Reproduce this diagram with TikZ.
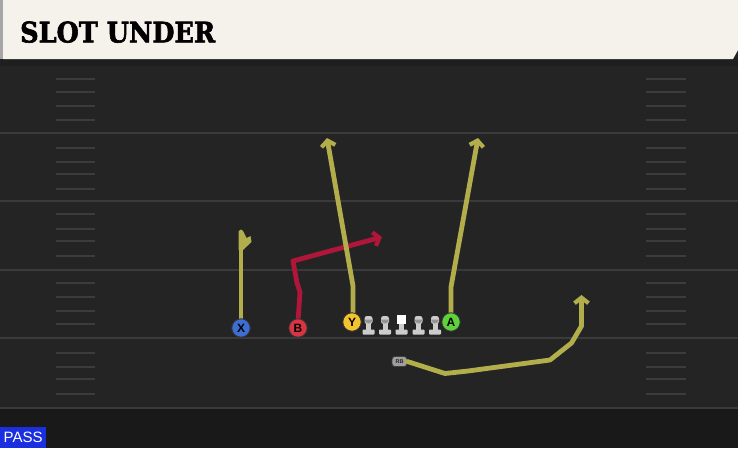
\documentclass[tikz,border=0pt]{standalone}
\usepackage{fontspec}
\setmainfont{Liberation Sans}
\newfontfamily\titlefont{DejaVu Serif}[BoldFeatures={FakeBold=2.2}]
\usetikzlibrary{arrows.meta}
\definecolor{fieldbg}{HTML}{242424}
\definecolor{yardline}{HTML}{3A3A3A}
\definecolor{hashc}{HTML}{3C3C3C}
\definecolor{headbg}{HTML}{F5F2EC}
\definecolor{routey}{HTML}{B3AE4C}
\definecolor{router}{HTML}{B0163A}
\definecolor{xblue}{HTML}{3C6ED4}
\definecolor{bred}{HTML}{DA3442}
\definecolor{yyel}{HTML}{F3C22F}
\definecolor{agreen}{HTML}{5ED23C}
\definecolor{passblue}{HTML}{1A2FE0}
\tikzset{
  yard/.style={draw=yardline, line width=2pt},
  hashm/.style={draw=hashc, line width=1.6pt},
  player/.style={circle, draw=black!80, line width=0.9pt, minimum size=18.5pt, inner sep=0pt, font=\bfseries\fontsize{12}{12}\selectfont, text=black},
  route/.style={draw=routey, line width=4.8pt, line join=round, line cap=round},
  redroute/.style={draw=router, line width=4.8pt, line join=round, line cap=round},
  tip/.style={-{Straight Barb[length=5.5pt,width=14pt,line width=4.2pt]}},
  linehead/.style={fill=black!42},
  linebody/.style={fill=black!20},
}
\begin{document}
\begin{tikzpicture}[x=1pt,y=-1pt]
\useasboundingbox (0,0) rectangle (738,448);
\fill[fieldbg] (0,0) rectangle (738,448);
\fill[black!88] (0,59) rectangle (738,66);
\fill[black!90] (0,408) rectangle (738,448);
% yard lines
\foreach \yy in {133,201,270,338,408} \draw[yard] (0,\yy) -- (738,\yy);
% hash marks
\foreach \yy in {79,92,106,120,148,162,174,189,214,229,241,256,283,297,311,324,353,367,379,394} {
  \draw[hashm] (56,\yy) -- (95,\yy);
  \draw[hashm] (646,\yy) -- (686,\yy);
}
% header
\fill[black!35] (0,0) rectangle (3,59);
\fill[headbg] (3,0) -- (738,0) -- (738,50) -- (733,59) -- (3,59) -- cycle;
\node[anchor=south west, inner sep=0pt] (title) at (20,43) {\resizebox{195pt}{21pt}{\titlefont\bfseries SLOT UNDER}};
% linemen
\foreach \lx/\nm in {368.5/L1,385/L2,418.5/L4,435/L5} {
  \fill[linebody] (\lx-2.5,322) rectangle (\lx+2.5,330.5);
  \fill[linebody, rounded corners=0.8pt] (\lx-6,329.5) rectangle (\lx+6,334.5);
  \fill[linebody, rounded corners=2.5pt] (\lx-4,316) rectangle (\lx+4,324);
  \fill[linehead] (\lx-4,319.5) arc[start angle=180, end angle=0, radius=4] -- cycle;
  \coordinate (\nm) at (\lx,325);
}
\fill[linebody] (399,322) rectangle (404,330.5);
\fill[linebody, rounded corners=0.8pt] (395.5,329.5) rectangle (407.5,334.5);
\fill[white] (397,314.5) rectangle (406,323.5);
\coordinate (C) at (401.5,325);
% routes (drawn under players)
\coordinate (xtop) at (241,232);
\coordinate (xbase) at (241,322);
\draw[route] (xbase) -- (xtop);
\fill[routey] (238.6,231) -- (243,231) -- (246.5,238) -- (250.5,236) -- (251.5,242) -- (243,250) -- (238.6,250) -- cycle;
\coordinate (bbase) at (298,322);
\coordinate (b1) at (300,292);
\coordinate (b2) at (297,283);
\coordinate (b3) at (293,261);
\coordinate (bend) at (382,237);
\draw[redroute, tip] (bbase) -- (b1) -- (b2) -- (b3) -- (bend);
\coordinate (ybase) at (353,316);
\coordinate (y1) at (353,286);
\coordinate (yend) at (327,138);
\draw[route, tip] (ybase) -- (y1) -- (yend);
\coordinate (abase) at (451,316);
\coordinate (a1) at (451,287);
\coordinate (aend) at (478,138);
\draw[route, tip] (abase) -- (a1) -- (aend);
% players
\node[player, fill=xblue] (X) at (241,328) {X};
\node[player, fill=bred] (B) at (298,328) {B};
\node[player, fill=yyel] (Y) at (352,322) {Y};
\node[player, fill=agreen] (A) at (451,322) {A};
% RB
\node[draw=black!75, line width=0.7pt, fill=black!38, rounded corners=3pt, minimum width=15pt, minimum height=10pt, inner sep=0pt, font=\fontsize{5.5}{5.5}\selectfont\bfseries, text=black!85] (RB) at (399.5,361.5) {RB};
\coordinate (r1) at (445,373.5);
\coordinate (r2) at (468,371);
\coordinate (r3) at (550,360);
\coordinate (r4) at (571.5,343);
\coordinate (r5) at (581.5,326);
\coordinate (rend) at (581.5,295);
\draw[route, tip] (RB.east) -- (r1) -- (r2) -- (r3) -- (r4) -- (r5) -- (rend);
% pass label
\node[fill=passblue, anchor=south west, inner sep=0pt, minimum width=46pt, minimum height=21pt, text=white, font=\fontsize{15}{15}\selectfont] (pass) at (0,448) {PASS};
\end{tikzpicture}
\end{document}
